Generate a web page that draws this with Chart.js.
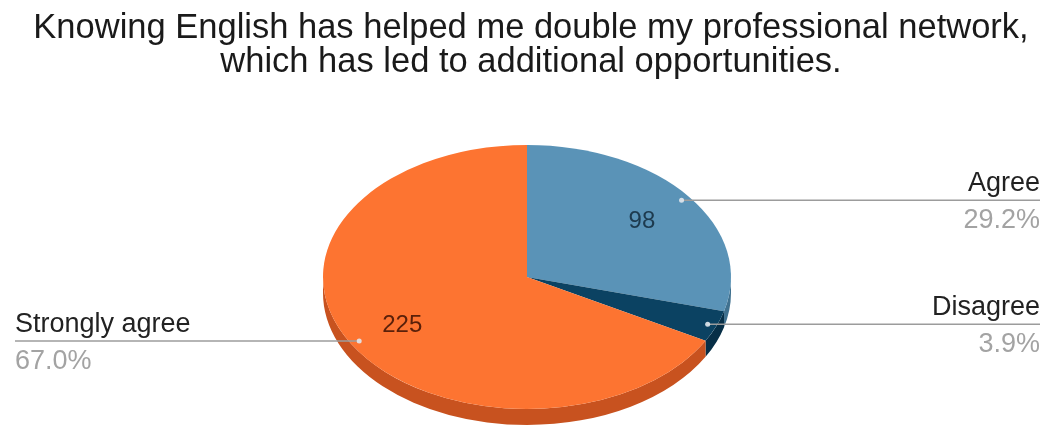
<!DOCTYPE html>
<html>
<head>
<meta charset="utf-8">
<title>English and professional network</title>
<script src="https://cdn.jsdelivr.net/npm/chart.js@4.4.1/dist/chart.umd.min.js"></script>
<style>
  html, body { margin: 0; padding: 0; background: #fff; }
  #wrap { width: 1045px; height: 429px; }
</style>
</head>
<body>
<div id="wrap"><canvas id="pie" width="1045" height="429"></canvas></div>
<script>
// answers and counts
const answers = ['Agree', 'Disagree', 'Strongly agree'];
const counts = [98, 13, 225];
const topColors = ['#5a93b7', '#0b4262', '#fd7431'];
const sideColors = ['#40718f', '#072f47', '#c8521f'];
const valueColors = ['#1d3a4e', '#1d3a4e', '#5a200a'];
const titleLines = [
    'Knowing English has helped me double my professional network,',
    'which has led to additional opportunities.'
];

// flattening of the pie
const PIE = { cx: 527, cy: 277, ry: 132, depth: 16 };

function tilt(chart) {
    var arc = chart.getDatasetMeta(0).data[0];
    return { x: arc.x, y: arc.y, r: arc.outerRadius, k: PIE.ry / arc.outerRadius };
}

const pie3d = {
    id: 'pie3d',
    beforeDatasetsDraw: function (chart) {
        var ctx = chart.ctx;
        var t = tilt(chart);
        var rx = t.r, ry = PIE.ry;
        var arcs = chart.getDatasetMeta(0).data;

        // side wall, only the front half shows
        arcs.forEach(function (a, i) {
            var s = Math.max(a.startAngle, 0);
            var e = Math.min(a.endAngle, Math.PI);
            if (e <= s) return;
            ctx.save();
            ctx.beginPath();
            ctx.ellipse(PIE.cx, PIE.cy, rx, ry, 0, s, e);
            ctx.lineTo(PIE.cx + rx * Math.cos(e), PIE.cy + ry * Math.sin(e) + PIE.depth);
            ctx.ellipse(PIE.cx, PIE.cy + PIE.depth, rx, ry, 0, e, s, true);
            ctx.closePath();
            ctx.fillStyle = sideColors[i];
            ctx.fill();
            ctx.restore();
        });

        ctx.save();
        ctx.translate(0, PIE.cy);
        ctx.scale(1, t.k);
        ctx.translate(0, -t.y);
    },
    afterDatasetsDraw: function (chart) {
        var ctx = chart.ctx;
        ctx.restore();

        var t = tilt(chart);
        var rx = t.r, ry = PIE.ry;
        var arcs = chart.getDatasetMeta(0).data;
        var total = counts.reduce(function (p, c) { return p + c; }, 0);

        arcs.forEach(function (a, i) {
            var mid = (a.startAngle + a.endAngle) / 2;
            var cos = Math.cos(mid), sin = Math.sin(mid);

            // value in the slice
            if (counts[i] / total > 0.05) {
                ctx.font = '24px "Liberation Sans", Arial, sans-serif';
                ctx.fillStyle = valueColors[i];
                ctx.textAlign = 'center';
                ctx.textBaseline = 'middle';
                ctx.fillText(String(counts[i]), PIE.cx + 0.71 * rx * cos, PIE.cy + 0.71 * ry * sin + 1);
            }

            // leader line
            var dx = PIE.cx + 0.955 * rx * cos;
            var dy = PIE.cy + 0.955 * ry * sin;
            var right = cos > 0;
            var endX = right ? 1040 : 15;
            ctx.beginPath();
            ctx.moveTo(dx, dy);
            ctx.lineTo(endX, dy);
            ctx.strokeStyle = '#9c9c9c';
            ctx.lineWidth = 1.5;
            ctx.stroke();

            ctx.beginPath();
            ctx.arc(dx, dy, 2.5, 0, Math.PI * 2);
            ctx.fillStyle = 'rgba(225,232,238,0.9)';
            ctx.fill();

            // answer and share
            ctx.font = '27px "Liberation Sans", Arial, sans-serif';
            ctx.textAlign = right ? 'right' : 'left';
            ctx.textBaseline = 'alphabetic';
            ctx.fillStyle = '#222222';
            ctx.fillText(answers[i], endX, dy - 9);
            ctx.fillStyle = '#a3a3a3';
            ctx.fillText((counts[i] / total * 100).toFixed(1) + '%', endX, dy + 28);
        });

        // title
        ctx.font = '34.5px "Liberation Sans", Arial, sans-serif';
        ctx.fillStyle = '#1a1a1a';
        ctx.textAlign = 'center';
        ctx.textBaseline = 'alphabetic';
        ctx.fillText(titleLines[0], 531, 38);
        ctx.fillText(titleLines[1], 531, 72);
    }
};

new Chart(document.getElementById('pie'), {
    type: 'pie',
    data: {
        labels: answers,
        datasets: [{
            data: counts,
            backgroundColor: topColors,
            borderWidth: 0,
            clip: false
        }]
    },
    options: {
        responsive: false,
        animation: false,
        layout: { padding: { left: 9, right: 0, top: 10, bottom: 11 } },
        plugins: {
            legend: { display: false },
            tooltip: { enabled: false },
            title: { display: false }
        }
    },
    plugins: [pie3d]
});
</script>
</body>
</html>
